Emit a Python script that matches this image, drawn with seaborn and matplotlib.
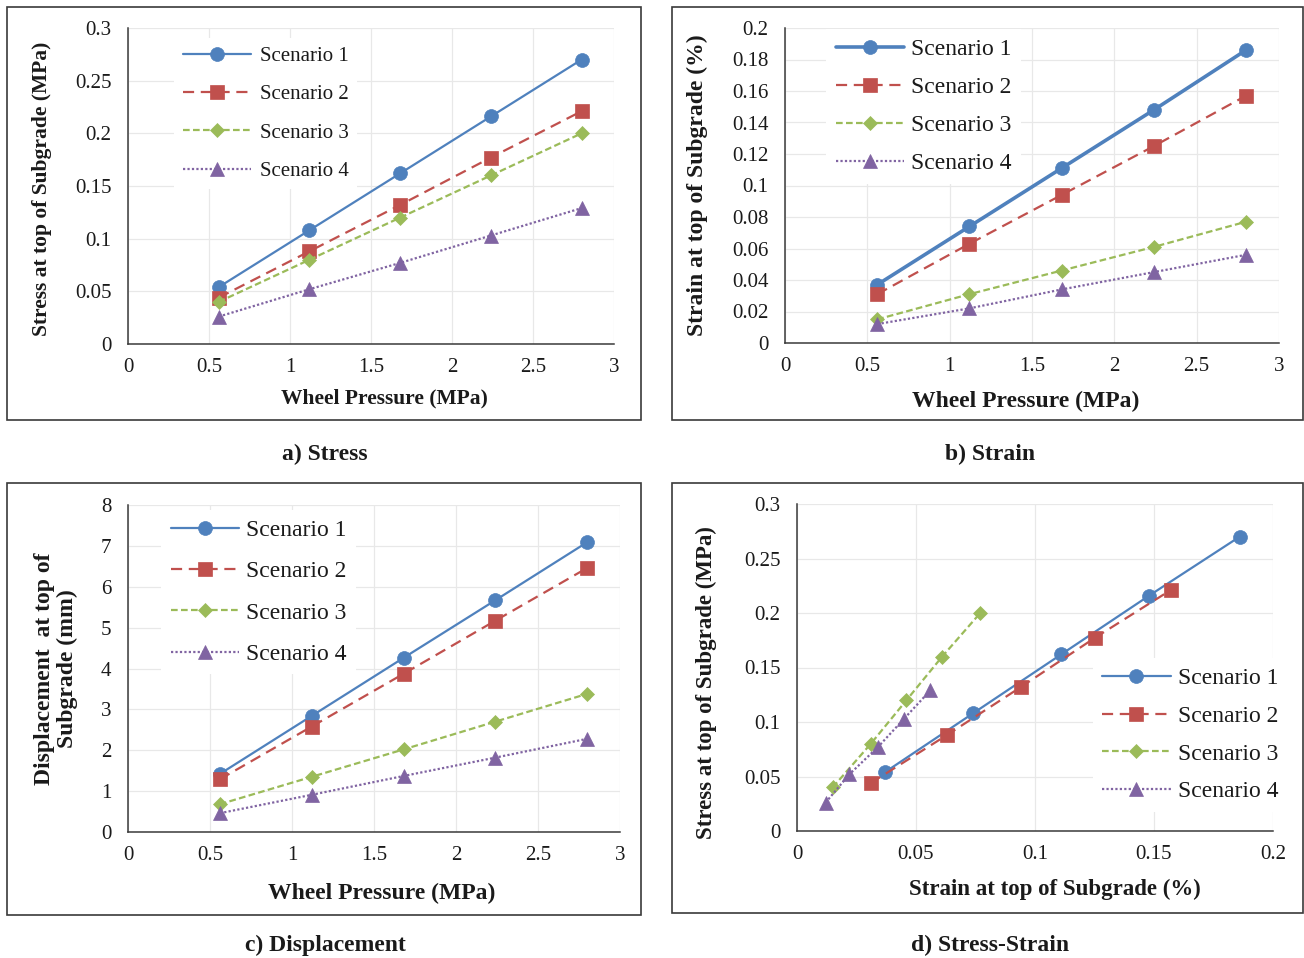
import matplotlib
matplotlib.use("Agg")
import matplotlib.pyplot as plt
from matplotlib.patches import Rectangle
import seaborn as sns
import pandas as pd

# ---------------- data ----------------
wheel_pressure = [0.56, 1.12, 1.68, 2.24, 2.80]
scenarios = ["Scenario 1", "Scenario 2", "Scenario 3", "Scenario 4"]

stress_s1 = [0.054, 0.108, 0.162, 0.216, 0.270]
stress_s2 = [0.044, 0.088, 0.132, 0.177, 0.221]
stress_s3 = [0.040, 0.080, 0.120, 0.160, 0.200]
stress_s4 = [0.026, 0.052, 0.077, 0.103, 0.129]

strain_s1 = [0.037, 0.074, 0.111, 0.148, 0.186]
strain_s2 = [0.031, 0.063, 0.094, 0.125, 0.157]
strain_s3 = [0.015, 0.031, 0.046, 0.061, 0.077]
strain_s4 = [0.012, 0.022, 0.034, 0.045, 0.056]

disp_s1 = [1.42, 2.84, 4.26, 5.67, 7.09]
disp_s2 = [1.29, 2.58, 3.87, 5.17, 6.46]
disp_s3 = [0.68, 1.35, 2.02, 2.70, 3.38]
disp_s4 = [0.46, 0.91, 1.37, 1.82, 2.28]

stress = [stress_s1, stress_s2, stress_s3, stress_s4]
strain = [strain_s1, strain_s2, strain_s3, strain_s4]
disp = [disp_s1, disp_s2, disp_s3, disp_s4]

captions = ["a) Stress", "b) Strain", "c) Displacement", "d) Stress-Strain"]

# ---------------- style ----------------
sns.set_theme(style="white")
plt.rcParams["font.family"] = ["Liberation Serif", "DejaVu Serif"]
plt.rcParams["axes.unicode_minus"] = False

colors = ["#4f81bd", "#c0504d", "#9bbb59", "#8064a2"]
markers = ["o", "s", "D", "^"]
msizes = [10, 9.5, 7.5, 10.5]
lstyles = ["-", (0, (5, 3)), (0, (3, 1.5)), (0, (1, 1))]

W, H = 1304, 958
fig = plt.figure(figsize=(W / 100, H / 100), dpi=100)


def px_axes(l, t, r, b):
    return fig.add_axes([l / W, (H - b) / H, (r - l) / W, (b - t) / H])


def border(l, t, r, b):
    fig.patches.append(Rectangle((l / W, (H - b) / H), (r - l) / W, (b - t) / H,
                                 transform=fig.transFigure, fill=False,
                                 edgecolor="#3a3a3a", linewidth=1.2))


def style_axes(ax, xlim, ylim, xticks, yticks, xt_labels, yt_labels, fs_tick):
    ax.set_xlim(*xlim)
    ax.set_ylim(*ylim)
    ax.set_xticks(xticks)
    ax.set_yticks(yticks)
    ax.set_xticklabels(xt_labels, fontsize=fs_tick)
    ax.set_yticklabels(yt_labels, fontsize=fs_tick)
    ax.grid(True, color="#e8e8e8", linewidth=0.9)
    ax.set_axisbelow(True)
    for s in ["top", "right"]:
        ax.spines[s].set_visible(False)
    for s in ["left", "bottom"]:
        ax.spines[s].set_color("#3a3a3a")
        ax.spines[s].set_linewidth(1.1)
    ax.tick_params(axis="both", length=0, colors="#1a1a1a")
    ax.tick_params(axis="y", pad=12)
    ax.tick_params(axis="x", pad=10)
    ax.set_facecolor("white")


def draw(ax, xs_list, ys_list, lw_first=1.6):
    for i in range(4):
        df = pd.DataFrame({"x": xs_list[i], "y": ys_list[i]})
        sns.lineplot(data=df, x="x", y="y", ax=ax, sort=False,
                     color=colors[i], marker=markers[i], markersize=msizes[i],
                     markeredgecolor=colors[i], markeredgewidth=0.5,
                     linestyle=lstyles[i],
                     linewidth=(lw_first if i == 0 else 1.6),
                     label=scenarios[i])


def legend(ax, fs, anchor, spacing, hlen, hpad):
    leg = ax.legend(loc="upper left", bbox_to_anchor=anchor, borderaxespad=0,
                    fontsize=fs, labelspacing=spacing, handlelength=hlen,
                    handletextpad=hpad, frameon=True, facecolor="white",
                    edgecolor="none", framealpha=1, fancybox=False,
                    borderpad=0.4)
    for t in leg.get_texts():
        t.set_color("#1a1a1a")


def labels(ax, xl, yl, fs, xpos, ypos):
    ax.set_xlabel(xl, fontsize=fs, fontweight="bold", color="#1a1a1a")
    ax.set_ylabel(yl, fontsize=fs, fontweight="bold", color="#1a1a1a",
                  linespacing=1.15)
    ax.xaxis.label.set_va("center")
    ax.yaxis.label.set_va("center")
    ax.xaxis.set_label_coords(*xpos)
    ax.yaxis.set_label_coords(*ypos)


xt = [0, 0.5, 1, 1.5, 2, 2.5, 3]
xtl = ["0", "0.5", "1", "1.5", "2", "2.5", "3"]
stress_ticks = [0, 0.05, 0.1, 0.15, 0.2, 0.25, 0.3]
stress_tl = ["0", "0.05", "0.1", "0.15", "0.2", "0.25", "0.3"]

# ---- a) Stress ----
border(7, 7, 641, 420)
axa = px_axes(128, 28, 614, 344)
draw(axa, [wheel_pressure] * 4, stress)
style_axes(axa, (0, 3), (0, 0.3), xt, stress_ticks, xtl, stress_tl, 15)
legend(axa, 15, (0.095, 0.968), 0.9, 3.3, 0.4)
labels(axa, "Wheel Pressure (MPa)", "Stress at top of Subgrade (MPa)", 15.5,
       (0.527, -0.174), (-0.177, 0.49))

# ---- b) Strain ----
border(672, 7, 1303, 420)
axb = px_axes(785, 28, 1279, 343)
draw(axb, [wheel_pressure] * 4, strain, lw_first=2.6)
strain_ticks = [0, 0.02, 0.04, 0.06, 0.08, 0.1, 0.12, 0.14, 0.16, 0.18, 0.2]
strain_tl = ["0", "0.02", "0.04", "0.06", "0.08", "0.1", "0.12", "0.14",
             "0.16", "0.18", "0.2"]
style_axes(axb, (0, 3), (0, 0.2), xt, strain_ticks, xtl, strain_tl, 15)
legend(axb, 17, (0.084, 0.997), 0.7, 2.9, 0.3)
labels(axb, "Wheel Pressure (MPa)", "Strain at top of Subgrade (%)", 17,
       (0.488, -0.187), (-0.178, 0.5))

# ---- c) Displacement ----
border(7, 483, 641, 915)
axc = px_axes(128, 505, 620, 832)
draw(axc, [wheel_pressure] * 4, disp)
disp_ticks = [0, 1, 2, 3, 4, 5, 6, 7, 8]
disp_tl = [str(v) for v in disp_ticks]
style_axes(axc, (0, 3), (0, 8), xt, disp_ticks, xtl, disp_tl, 15)
legend(axc, 17, (0.068, 0.985), 0.84, 2.9, 0.3)
labels(axc, "Wheel Pressure (MPa)", "Displacement  at top of\nSubgrade (mm)", 17,
       (0.516, -0.187), (-0.146, 0.5))

# ---- d) Stress-Strain ----
border(672, 483, 1303, 913)
axd = px_axes(797, 504, 1273, 831)
draw(axd, strain, stress)
ss_xt = [0, 0.05, 0.1, 0.15, 0.2]
ss_xtl = ["0", "0.05", "0.1", "0.15", "0.2"]
style_axes(axd, (0, 0.2), (0, 0.3), ss_xt, stress_ticks, ss_xtl, stress_tl, 15)
legend(axd, 17, (0.621, 0.529), 0.69, 2.9, 0.3)
labels(axd, "Strain at top of Subgrade (%)", "Stress at top of Subgrade (MPa)", 16.5,
       (0.542, -0.180), (-0.191, 0.453))

# ---- captions ----
cap_pos = [(325, 454), (990, 454), (325, 945), (990, 945)]
for (cx, cy), txt in zip(cap_pos, captions):
    fig.text(cx / W, (H - cy) / H, txt, fontsize=17, fontweight="bold",
             ha="center", va="center", color="#1a1a1a")

fig.savefig("out.png", dpi=100, facecolor="white")
